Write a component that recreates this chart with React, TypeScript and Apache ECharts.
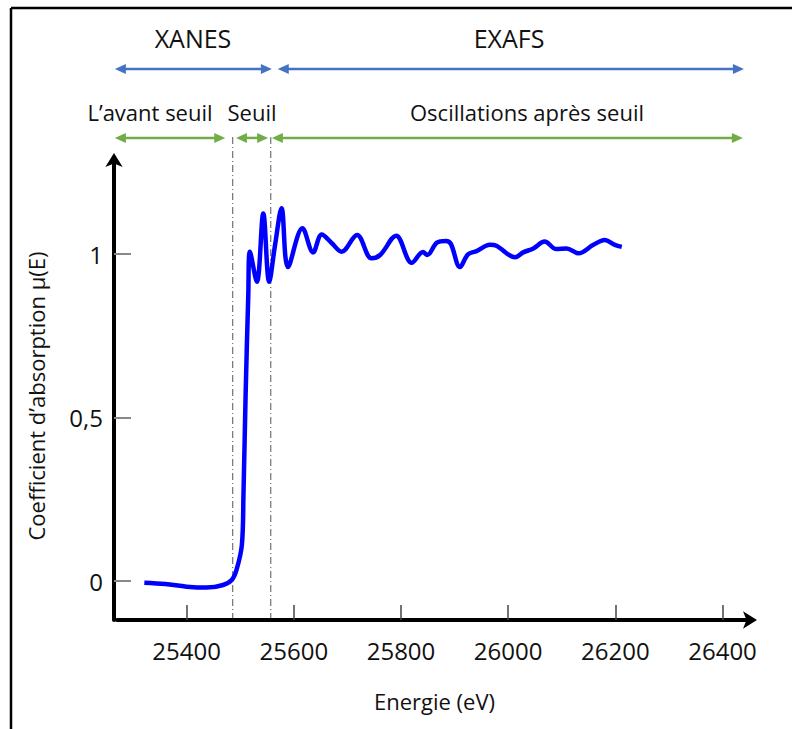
import React, { useEffect, useRef } from "react";
import * as echarts from "echarts";

// Energy (eV) and absorption coefficient
const energy = [
  25321, 25360, 25400, 25437, 25468, 25484, 25493, 25503, 25506, 25510, 25515,
  25518, 25531, 25543, 25554, 25565, 25577, 25589, 25616, 25636, 25652, 25671,
  25689, 25718, 25745, 25761, 25791, 25820, 25841, 25849, 25867, 25884, 25893,
  25910, 25925, 25941, 25966, 25978, 26013, 26028, 26047, 26068, 26090, 26109,
  26131, 26159, 26180, 26199, 26212,
];
const mu = [
  -0.005, -0.009, -0.017, -0.02, -0.012, 0.003, 0.034, 0.11, 0.263, 0.569, 0.875,
  1.007, 0.915, 1.124, 0.915, 1.028, 1.14, 0.96, 1.079, 1.005, 1.06, 1.033,
  1.007, 1.058, 0.987, 0.997, 1.056, 0.973, 1.006, 0.997, 1.035, 1.04, 1.031,
  0.96, 0.999, 1.009, 1.028, 1.025, 0.99, 1.005, 1.017, 1.038, 1.015, 1.017,
  1.002, 1.028, 1.043, 1.028, 1.022,
];

const xTicks = [25400, 25600, 25800, 26000, 26200, 26400];
const yTicks = [0, 0.5, 1];
const edgeLines = [25486, 25557];

// Region arrows: [start, end] in eV
const blueLevel = 1.566;
const blueRanges = [
  [25266, 25559],
  [25570, 26440],
];
const greenLevel = 1.355;
const greenRanges = [
  [25266, 25472],
  [25492, 25552],
  [25559, 26438],
];
const regionTitles = ["XANES", "EXAFS"];
const subRegionTitles = ["L\u2019avant seuil", "Seuil", "Oscillations apr\u00e8s seuil"];

const FONT = '"Open Sans", "Noto Sans", sans-serif';
const Y_MIN = -0.119;
const Y_MAX = 1.2936;

export default function App() {
  const ref = useRef<HTMLDivElement>(null);

  useEffect(() => {
    document.body.style.margin = "0";
    const chart = echarts.init(ref.current!, null, { renderer: "svg" });
    const seriesData = energy.map((e, i) => [e, mu[i]]);

    chart.setOption({
      animation: false,
      backgroundColor: "#ffffff",
      grid: { left: 117, right: 40, top: 158, bottom: 109 },
      xAxis: {
        type: "value",
        min: 25270,
        max: 26455,
        name: "Energie (eV)",
        nameLocation: "middle",
        nameGap: 70,
        nameTextStyle: { fontFamily: FONT, fontSize: 22, color: "#111" },
        axisLine: {
          show: true,
          onZero: false,
          symbol: ["none", "arrow"],
          symbolSize: [13, 14],
          symbolOffset: [0, 5],
          lineStyle: { color: "#000", width: 4 },
        },
        axisTick: {
          show: true,
          inside: true,
          length: 15,
          customValues: xTicks,
          lineStyle: { color: "#444", width: 1.5 },
        },
        axisLabel: {
          customValues: xTicks,
          margin: 18,
          fontFamily: FONT,
          fontSize: 24,
          color: "#111",
          formatter: (v: number) => String(v),
        },
        splitLine: { show: false },
      },
      yAxis: {
        type: "value",
        min: Y_MIN,
        max: Y_MAX,
        offset: 3,
        axisLine: {
          show: true,
          onZero: false,
          symbol: ["none", "arrow"],
          symbolSize: [13, 14],
          symbolOffset: [0, 5],
          lineStyle: { color: "#000", width: 4 },
        },
        axisTick: {
          show: true,
          inside: true,
          length: 17,
          customValues: yTicks,
          lineStyle: { color: "#888", width: 2 },
        },
        axisLabel: {
          customValues: yTicks,
          margin: 11,
          fontFamily: FONT,
          fontSize: 24,
          color: "#111",
          formatter: (v: number) => String(v).replace(".", ","),
        },
        splitLine: { show: false },
      },
      series: [
        {
          type: "line",
          data: seriesData,
          smooth: 0.35,
          showSymbol: false,
          clip: false,
          lineStyle: { color: "#0000ff", width: 4.5 },
        },
      ],
    });

    const toPx = (x: number, y: number) =>
      chart.convertToPixel({ gridIndex: 0 }, [x, y]) as number[];

    const arrowGraphics = (ranges: number[][], level: number, color: string) => {
      const out: any[] = [];
      ranges.forEach((r) => {
        const a = toPx(r[0], level);
        const b = toPx(r[1], level);
        const L = 11;
        const H = 5;
        out.push({
          type: "line",
          shape: { x1: a[0] + 4, y1: a[1], x2: b[0] - 4, y2: b[1] },
          style: { stroke: color, lineWidth: 2.5 },
        });
        out.push({
          type: "polygon",
          shape: { points: [[a[0], a[1]], [a[0] + L, a[1] - H], [a[0] + L, a[1] + H]] },
          style: { fill: color },
        });
        out.push({
          type: "polygon",
          shape: { points: [[b[0], b[1]], [b[0] - L, b[1] - H], [b[0] - L, b[1] + H]] },
          style: { fill: color },
        });
      });
      return out;
    };

    const dashed = edgeLines.map((x) => {
      const a = toPx(x, Y_MIN);
      const b = toPx(x, 1.364);
      return {
        type: "line",
        shape: { x1: a[0], y1: a[1], x2: b[0], y2: b[1] },
        style: { stroke: "#555", lineWidth: 1, lineDash: [7, 3, 1, 3] },
      };
    });

    const txt = (text: string, x: number, y: number, size: number) => ({
      type: "text",
      x,
      y,
      style: { text, fontFamily: FONT, fontSize: size, fill: "#111", align: "center", verticalAlign: "middle" },
    });

    chart.setOption({
      graphic: [
        { type: "line", shape: { x1: 11, y1: 8, x2: 792, y2: 8 }, style: { stroke: "#000", lineWidth: 2.5 } },
        { type: "line", shape: { x1: 11, y1: 8, x2: 11, y2: 729 }, style: { stroke: "#000", lineWidth: 2.5 } },
        ...dashed,
        ...arrowGraphics(blueRanges, blueLevel, "#4472c4"),
        ...arrowGraphics(greenRanges, greenLevel, "#70ad47"),
        txt(regionTitles[0], 193, 38, 25),
        txt(regionTitles[1], 509, 38, 25),
        txt(subRegionTitles[0], 150, 112, 22),
        txt(subRegionTitles[1], 252, 112, 22),
        txt(subRegionTitles[2], 527, 112, 22),
        {
          type: "text",
          x: 36,
          y: 396,
          rotation: Math.PI / 2,
          style: {
            text: "Coefficient d\u2019absorption \u03bc(E)",
            fontFamily: FONT,
            fontSize: 22,
            fill: "#111",
            align: "center",
            verticalAlign: "middle",
          },
        },
      ],
    });
    return () => chart.dispose();
  }, []);

  return (
    <div
      ref={ref}
      style={{ position: "fixed", left: 0, top: 0, width: 792, height: 729 }}
    />
  );
}
